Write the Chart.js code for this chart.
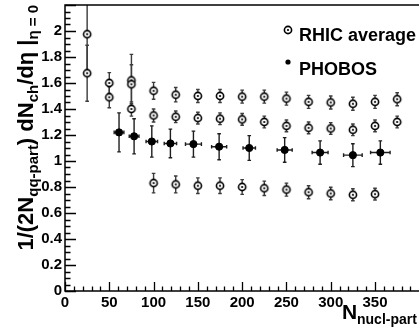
<!DOCTYPE html>
<html lang="en">
<head>
<meta charset="UTF-8">
<title>dNch/deta per quark participant</title>
<script src="https://cdn.jsdelivr.net/npm/chart.js@4"></script>
<style>
  body { margin: 0; background: #ffffff; }
  #wrap { width: 419px; height: 334px; overflow: hidden; }
</style>
</head>
<body>
<div id="wrap"><canvas id="chart" width="419" height="334"></canvas></div>
<script>
// RHIC average, low Npart (several points share one Npart)
const rhicLowN   = [25, 25, 50, 50, 75, 75, 75];
const rhicLowY   = [1.975, 1.675, 1.60, 1.49, 1.62, 1.59, 1.40];
const rhicLowErr = [0.30, 0.215, 0.08, 0.08, 0.20, 0.15, 0.055];

// RHIC average, the three rows from Npart = 100 up
const rhicN      = [100, 125, 150, 175, 200, 225, 250, 275, 300, 325, 350, 375];
const rhicTopY   = [1.54, 1.51, 1.50, 1.50, 1.495, 1.495, 1.48, 1.455, 1.45, 1.44, 1.455, 1.475];
const rhicTopErr = [0.065, 0.055, 0.05, 0.05, 0.05, 0.05, 0.05, 0.05, 0.05, 0.05, 0.05, 0.05];
const rhicMidY   = [1.35, 1.34, 1.33, 1.325, 1.32, 1.30, 1.27, 1.255, 1.25, 1.24, 1.27, 1.30];
const rhicMidErr = [0.05, 0.045, 0.045, 0.045, 0.045, 0.045, 0.045, 0.045, 0.045, 0.045, 0.045, 0.045];
const rhicBotN   = [100, 125, 150, 175, 200, 225, 250, 275, 300, 325, 350];
const rhicBotY   = [0.83, 0.82, 0.81, 0.81, 0.80, 0.79, 0.78, 0.76, 0.75, 0.74, 0.745];
const rhicBotErr = [0.075, 0.065, 0.06, 0.06, 0.057, 0.055, 0.05, 0.05, 0.048, 0.046, 0.045];

// PHOBOS
const phobosN    = [61, 78, 98, 119, 145, 174, 208, 248, 288, 325, 356];
const phobosY    = [1.22, 1.19, 1.15, 1.135, 1.13, 1.11, 1.10, 1.085, 1.065, 1.045, 1.065];
const phobosYErr = [0.15, 0.135, 0.12, 0.11, 0.10, 0.10, 0.095, 0.095, 0.09, 0.088, 0.09];
const phobosNErr = [5.5, 5.5, 6.5, 7, 9, 8.5, 7, 8.5, 9, 10.5, 11];

const xTicks = [0, 50, 100, 150, 200, 250, 300, 350];
const yTicks = [0, 0.2, 0.4, 0.6, 0.8, 1, 1.2, 1.4, 1.6, 1.8, 2];

const FONT = "'Liberation Sans', Arial, Helvetica, sans-serif";

function pts(ns, ys, eys, exs) {
  return ns.map((n, i) => ({ x: n, y: ys[i], ey: eys[i], ex: exs ? exs[i] : 0 }));
}

// open circle with a dot in the middle (ROOT style marker)
function dotCircle(r) {
  const c = document.createElement('canvas');
  const s = Math.ceil(2 * r + 4);
  c.width = s; c.height = s;
  const g = c.getContext('2d');
  g.beginPath(); g.arc(s / 2, s / 2, r, 0, Math.PI * 2);
  g.fillStyle = '#fff'; g.fill();
  g.lineWidth = 1.6; g.strokeStyle = '#000'; g.stroke();
  g.beginPath(); g.arc(s / 2, s / 2, 1.1, 0, Math.PI * 2);
  g.fillStyle = '#000'; g.fill();
  return c;
}
const rhicMarker = dotCircle(3.6);

const errorBars = {
  id: 'errorBars',
  beforeDatasetsDraw(chart) {
    const { ctx, chartArea: a, scales: { x, y } } = chart;
    ctx.save();
    ctx.beginPath();
    ctx.rect(a.left, a.top, a.right - a.left, a.bottom - a.top);
    ctx.clip();
    chart.data.datasets.forEach(ds => {
      ctx.strokeStyle = ds.errColor;
      ctx.lineWidth = 1.4;
      ds.data.forEach(p => {
        const px = x.getPixelForValue(p.x);
        const py = y.getPixelForValue(p.y);
        ctx.beginPath();
        if (p.ey) {
          const t = y.getPixelForValue(p.y + p.ey);
          const b = y.getPixelForValue(p.y - p.ey);
          ctx.moveTo(px, t); ctx.lineTo(px, b);
          ctx.moveTo(px - 1.8, t); ctx.lineTo(px + 1.8, t);
          ctx.moveTo(px - 1.8, b); ctx.lineTo(px + 1.8, b);
        }
        if (p.ex) {
          const l = x.getPixelForValue(p.x - p.ex);
          const r = x.getPixelForValue(p.x + p.ex);
          ctx.moveTo(l, py); ctx.lineTo(r, py);
          ctx.moveTo(l, py - 1.8); ctx.lineTo(l, py + 1.8);
          ctx.moveTo(r, py - 1.8); ctx.lineTo(r, py + 1.8);
        }
        ctx.stroke();
      });
    });
    ctx.restore();
  }
};

// frame and inward ticks
const frame = {
  id: 'frame',
  afterDraw(chart) {
    const { ctx, chartArea: a, scales: { x, y } } = chart;
    ctx.save();
    ctx.strokeStyle = '#000';
    ctx.lineWidth = 1.5;
    ctx.beginPath();
    ctx.moveTo(chart.width, a.top); ctx.lineTo(a.left, a.top);
    ctx.lineTo(a.left, a.bottom); ctx.lineTo(chart.width, a.bottom);
    ctx.stroke();
    ctx.lineWidth = 1.3;
    ctx.beginPath();
    for (let i = 0; i <= 44; i++) {
      const py = Math.round(y.getPixelForValue(i * 0.05)) + 0.5;
      const len = i % 4 === 0 ? 11 : 5.5;
      ctx.moveTo(a.left, py); ctx.lineTo(a.left + len, py);
    }
    for (let v = 0; v <= x.max; v += 10) {
      const px = Math.round(x.getPixelForValue(v)) + 0.5;
      const len = v % 50 === 0 ? 9 : 4.5;
      ctx.moveTo(px, a.bottom); ctx.lineTo(px, a.bottom - len);
    }
    ctx.stroke();
    ctx.restore();
  }
};

// axis titles and legend
const texts = {
  id: 'texts',
  afterDraw(chart) {
    const { ctx, chartArea: a } = chart;
    ctx.save();
    ctx.fillStyle = '#000';
    ctx.textBaseline = 'alphabetic';
    ctx.textAlign = 'left';

    // x title
    ctx.font = 'bold 21px ' + FONT;
    ctx.fillText('N', 342, 319);
    ctx.font = 'bold 14px ' + FONT;
    ctx.fillText('nucl-part', 357, 324);

    // y title, rotated, right end at the top of the frame
    const parts = [
      ['1/(2N', 22, 0], ['qq-part', 15, 5], [') dN', 22, 0],
      ['ch', 15, 5], ['/d\u03b7 |', 22, 0], ['\u03b7 = 0', 15, 5]
    ];
    let total = 0;
    parts.forEach(p => { ctx.font = 'bold ' + p[1] + 'px ' + FONT; total += ctx.measureText(p[0]).width; });
    ctx.translate(33, a.top + total);
    ctx.rotate(-Math.PI / 2);
    let pos = 0;
    parts.forEach(p => {
      ctx.font = 'bold ' + p[1] + 'px ' + FONT;
      ctx.fillText(p[0], pos, p[2]);
      pos += ctx.measureText(p[0]).width;
    });
    ctx.setTransform(1, 0, 0, 1, 0, 0);

    // legend
    ctx.drawImage(rhicMarker, 288 - rhicMarker.width / 2, 30 - rhicMarker.height / 2);
    ctx.beginPath(); ctx.arc(288, 62, 2.6, 0, Math.PI * 2); ctx.fill();
    ctx.font = 'bold 18px ' + FONT;
    ctx.fillText('RHIC average', 299, 41);
    ctx.fillText('PHOBOS', 299, 75);
    ctx.restore();
  }
};

const tickFont = { family: FONT, weight: 'bold', size: 15 };

function noPad(s) {
  s.paddingTop = 0; s.paddingBottom = 0; s.paddingLeft = 0; s.paddingRight = 0;
}

new Chart(document.getElementById('chart'), {
  type: 'scatter',
  data: {
    datasets: [
      {
        label: 'RHIC average',
        data: pts(rhicLowN, rhicLowY, rhicLowErr)
          .concat(pts(rhicN, rhicTopY, rhicTopErr))
          .concat(pts(rhicN, rhicMidY, rhicMidErr))
          .concat(pts(rhicBotN, rhicBotY, rhicBotErr)),
        pointStyle: rhicMarker,
        errColor: '#3c3c3c'
      },
      {
        label: 'PHOBOS',
        data: pts(phobosN, phobosY, phobosYErr, phobosNErr),
        pointStyle: 'circle',
        pointRadius: 3.6,
        backgroundColor: '#000',
        borderColor: '#000',
        errColor: '#1e1e1e'
      }
    ]
  },
  options: {
    responsive: false,
    animation: false,
    layout: { padding: { top: 5, right: 0, left: 0, bottom: 0 } },
    plugins: { legend: { display: false }, tooltip: { enabled: false } },
    scales: {
      x: {
        type: 'linear', min: 0, max: 394,
        grid: { display: false, drawTicks: false },
        border: { display: false },
        afterBuildTicks: s => { s.ticks = xTicks.map(v => ({ value: v })); },
        afterFit: s => { s.height = 43; noPad(s); },
        ticks: { color: '#000', font: tickFont, padding: 3, maxRotation: 0, autoSkip: false }
      },
      y: {
        min: 0, max: 2.2,
        grid: { display: false, drawTicks: false },
        border: { display: false },
        afterBuildTicks: s => { s.ticks = yTicks.map(v => ({ value: v })); },
        afterFit: s => { s.width = 65; noPad(s); },
        ticks: { color: '#000', font: tickFont, padding: 3, callback: v => String(+v.toFixed(1)) }
      }
    }
  },
  plugins: [errorBars, frame, texts]
});
</script>
</body>
</html>
